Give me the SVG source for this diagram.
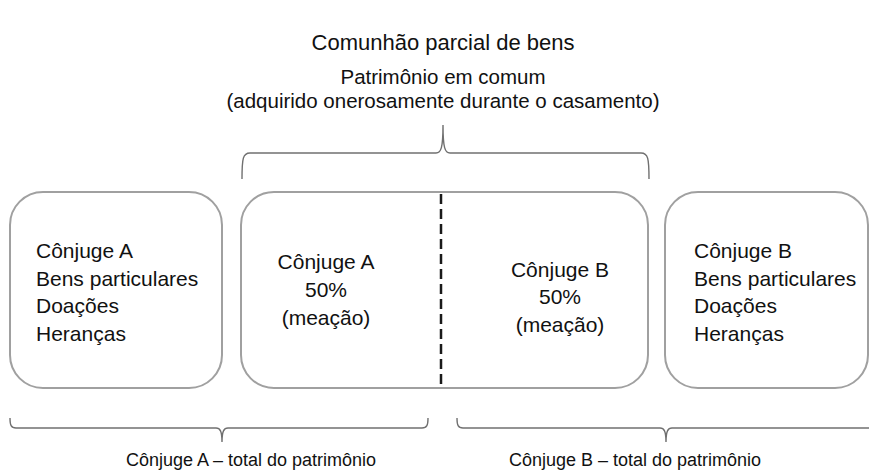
<svg xmlns="http://www.w3.org/2000/svg" width="869" height="474" viewBox="0 0 869 474">
<style>
.t{font-family:"Liberation Sans",Arial,sans-serif;font-size:21px;fill:#111}
.c{text-anchor:middle}
.h{font-size:22px}
.s{font-size:20.5px}
.f{font-size:18px}
.box{fill:#fff;stroke:#a0a0a0;stroke-width:2}
.br{fill:none;stroke:#707070;stroke-width:1.4}
.dash{stroke:#1a1a1a;stroke-width:2.5;stroke-dasharray:10 5}
</style>
<rect width="869" height="474" fill="#fff"/>
<g id="title">
<text class="t c h" x="443" y="50">Comunhão parcial de bens</text>
<text class="t c s" x="443" y="84">Patrimônio em comum</text>
<text class="t c s" x="443" y="108">(adquirido onerosamente durante o casamento)</text>
</g>
<g id="box-a">
<rect class="box" x="10" y="192" width="212" height="196" rx="33"/>
<text class="t" x="36" y="258">Cônjuge A</text>
<text class="t" x="36" y="286">Bens particulares</text>
<text class="t" x="36" y="313">Doações</text>
<text class="t" x="36" y="341">Heranças</text>
</g>
<g id="box-common">
<rect class="box" x="241" y="192" width="407" height="196" rx="33"/>
<line class="dash" x1="441" y1="194" x2="441" y2="386"/>
<text class="t c" x="326" y="269">Cônjuge A</text>
<text class="t c" x="326" y="297">50%</text>
<text class="t c" x="326" y="325">(meação)</text>
<text class="t c" x="560" y="277">Cônjuge B</text>
<text class="t c" x="560" y="304">50%</text>
<text class="t c" x="560" y="332">(meação)</text>
</g>
<g id="box-b">
<rect class="box" x="665" y="192" width="203" height="196" rx="33"/>
<text class="t" x="694" y="258">Cônjuge B</text>
<text class="t" x="694" y="286">Bens particulares</text>
<text class="t" x="694" y="313">Doações</text>
<text class="t" x="694" y="341">Heranças</text>
</g>
<g id="connectors">
<path class="br" d="M242,179 C242,158 243,153 250,153 L436,153 C441,153 443,148 443,125 C443,148 445,153 450,153 L641,153 C648,153 649,158 649,179"/>
<path class="br" d="M10,418 C10,425 11,428 16,428 L216,428 C220,428 222,431 222,442 C222,431 224,428 228,428 L422,428 C427,428 428,425 428,418"/>
<path class="br" d="M457,418 C457,425 458,428 463,428 L660,428 C664,428 666,431 666,442 C666,431 668,428 672,428 L869,428 C874,428 875,425 875,418"/>
</g>
<g id="bottom-labels">
<text class="t c f" x="251" y="466">Cônjuge A – total do patrimônio</text>
<text class="t c f" x="635" y="466">Cônjuge B – total do patrimônio</text>
</g>
</svg>
